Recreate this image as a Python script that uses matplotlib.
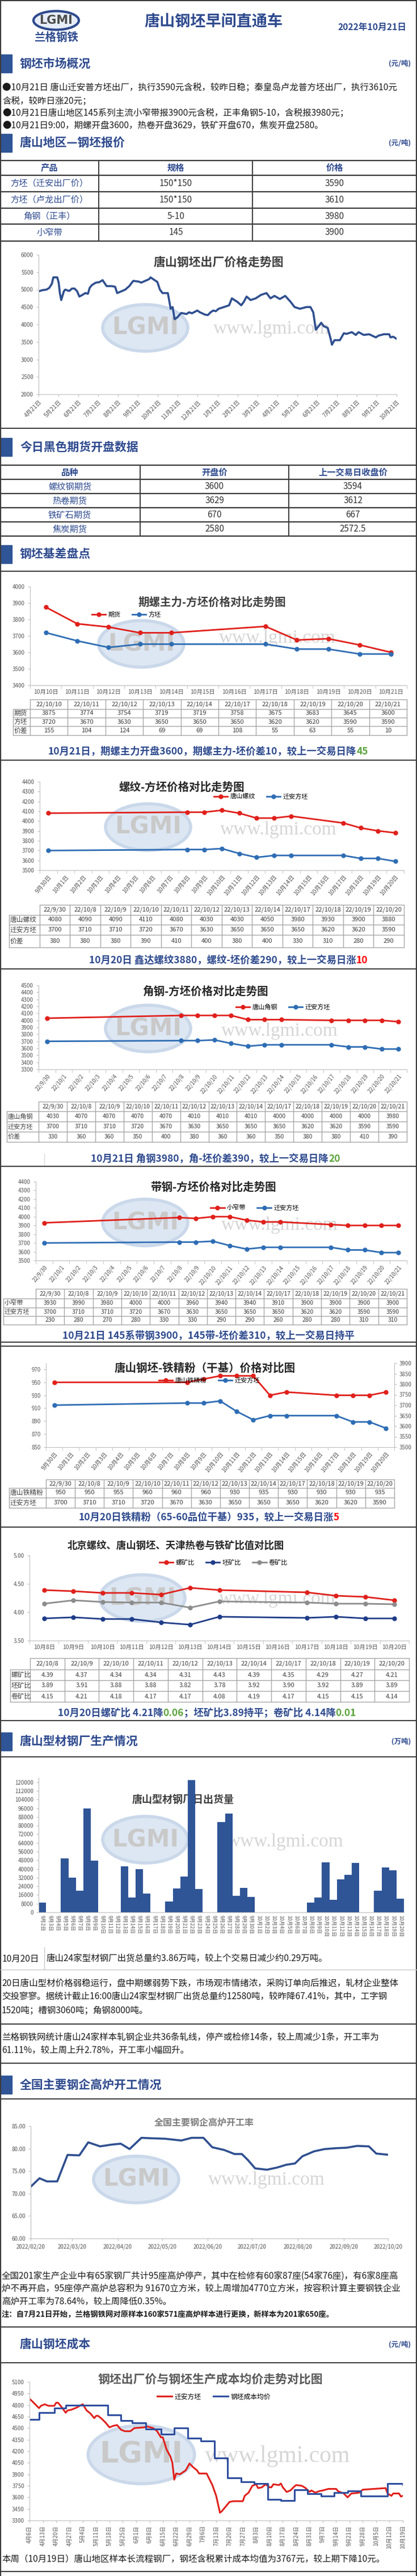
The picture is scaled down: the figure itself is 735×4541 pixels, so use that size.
import numpy as np
import matplotlib
matplotlib.use('Agg')
import matplotlib.pyplot as plt
from matplotlib.patches import Ellipse, Rectangle

plt.rcParams['font.family'] = ['Noto Sans CJK SC', 'DejaVu Sans']
plt.rcParams['axes.unicode_minus'] = False

# ---------------- data ----------------
report_date = '2022年10月21日'

market_lines = [
    '●10月21日 唐山迁安普方坯出厂，执行3590元含税，较昨日稳；秦皇岛卢龙普方坯出厂，执行3610元',
    '含税，较昨日涨20元；',
    '●10月21日唐山地区145系列主流小窄带报3900元含税，正丰角钢5-10，含税报3980元；',
    '●10月21日9:00，期螺开盘3600，热卷开盘3629，铁矿开盘670，焦炭开盘2580。',
]

quote_products = ['方坯（迁安出厂价）', '方坯（卢龙出厂价）', '角钢（正丰）', '小窄带']
quote_specs = ['150*150', '150*150', '5-10', '145']
quote_prices = [3590, 3610, 3980, 3900]

# billet ex-works price, x = months after 2021-04-21
trend_t = [0.00, 0.20, 0.40, 0.54, 0.67, 0.74, 0.94, 1.01, 1.07, 1.14, 1.27, 1.34, 1.54, 1.68,
           1.81, 1.94, 2.05, 2.21, 2.35, 2.48, 2.57, 2.68, 2.88, 3.04, 3.22, 3.42, 3.69, 3.85,
           3.95, 4.16, 4.36, 4.56, 4.76, 5.03, 5.16, 5.36, 5.56, 5.63, 5.76, 5.97, 6.10, 6.23,
           6.50, 6.64, 6.74, 6.84, 6.97, 7.17, 7.44, 7.57, 7.71, 7.98, 8.11, 8.38, 8.51, 8.65,
           8.78, 8.91, 9.05, 9.32, 9.58, 9.72, 9.85, 9.99, 10.19, 10.32, 10.46, 10.66, 10.92,
           11.19, 11.46, 11.66, 11.86, 12.13, 12.40, 12.67, 12.87, 13.14, 13.47, 13.67, 13.81,
           13.94, 14.08, 14.21, 14.34, 14.54, 14.68, 14.75, 14.88, 15.15, 15.35, 15.48, 15.75,
           15.95, 16.09, 16.35, 16.62, 16.96, 17.09, 17.36, 17.63, 17.69, 17.83, 18.00]
trend_v = [4950, 4985, 5000, 5050, 5170, 5350, 5350, 5200, 4900, 4700, 4950, 5000, 4960, 5030,
           5030, 4950, 4800, 4850, 4900, 4880, 5050, 5130, 5200, 5210, 5270, 5100, 5100, 5080,
           4900, 4950, 5000, 5100, 5250, 5230, 5200, 5250, 5300, 5350, 5300, 5220, 5000, 4900,
           4900, 4450, 4500, 4150, 4200, 4330, 4300, 4350, 4320, 4400, 4350, 4280, 4270, 4350,
           4400, 4380, 4450, 4500, 4550, 4750, 4700, 4650, 4550, 4650, 4800, 4700, 4750,
           4850, 4900, 4750, 4820, 4730, 4820, 4650, 4500, 4450, 4500, 4500, 4350,
           3850, 3950, 4050, 3950, 3900, 3600, 3420, 3550, 3550, 3750, 3730, 3780,
           3700, 3780, 3700, 3720, 3630, 3680, 3720, 3720, 3630, 3650, 3590]
trend_ticks = ['4月21日', '5月21日', '6月21日', '7月21日', '8月21日', '9月21日', '10月21日',
               '11月21日', '12月21日', '1月21日', '2月21日', '3月21日', '4月21日', '5月21日',
               '6月21日', '7月21日', '8月21日', '9月21日', '10月21日']

fut_names = ['螺纹钢期货', '热卷期货', '铁矿石期货', '焦炭期货']
fut_open = ['3600', '3629', '670', '2580']
fut_prev = ['3594', '3612', '667', '2572.5']

# 期螺主力-方坯
rb_cats = [f'10月{d}日' for d in range(10, 22)]
rb_dates = ['22/10/10', '22/10/11', '22/10/12', '22/10/13', '22/10/14', '22/10/17',
            '22/10/18', '22/10/19', '22/10/20', '22/10/21']
rb_fut = [3875, 3774, 3754, 3719, 3719, 3758, 3675, 3683, 3645, 3600]
rb_billet = [3720, 3670, 3630, 3650, 3650, 3650, 3620, 3620, 3590, 3590]
rb_spread = [155, 104, 124, 69, 69, 108, 55, 63, 55, 10]

# 螺纹-方坯
rebar_cats = ['9月30日'] + [f'10月{d}日' for d in range(1, 21)]
rebar_dates = ['22/9/30', '22/10/8', '22/10/9', '22/10/10', '22/10/11', '22/10/12',
               '22/10/13', '22/10/14', '22/10/17', '22/10/18', '22/10/19', '22/10/20']
rebar_price = [4080, 4090, 4090, 4110, 4080, 4030, 4030, 4050, 3980, 3930, 3900, 3880]
rebar_billet = [3700, 3710, 3710, 3720, 3670, 3630, 3650, 3650, 3650, 3620, 3620, 3590]
rebar_spread = [380, 380, 380, 390, 410, 400, 380, 400, 330, 310, 280, 290]

# 角钢-方坯 / 带钢-方坯
day_cats = ['22/9/30'] + [f'22/10/{d}' for d in range(1, 22)]
ang_dates = ['22/9/30', '22/10/8', '22/10/9', '22/10/10', '22/10/11', '22/10/12', '22/10/13',
             '22/10/14', '22/10/17', '22/10/18', '22/10/19', '22/10/20', '22/10/21']
ang_price = [4030, 4070, 4070, 4070, 4070, 4010, 4010, 4010, 4000, 4000, 4000, 4000, 3980]
ang_billet = [3700, 3710, 3710, 3720, 3670, 3630, 3650, 3650, 3650, 3620, 3620, 3590, 3590]
ang_spread = [330, 360, 360, 350, 400, 380, 360, 360, 350, 380, 380, 410, 390]
strip_price = [3930, 3990, 3980, 4000, 4000, 3960, 3940, 3940, 3910, 3900, 3900, 3900, 3900]
strip_spread = [230, 280, 270, 280, 330, 330, 290, 290, 260, 280, 280, 310, 310]

# 铁精粉
ore_dates = rebar_dates
ore_price = [950, 950, 955, 960, 960, 960, 930, 935, 930, 930, 930, 935]
ore_billet = rebar_billet

# 比值
ratio_cats = [f'10月{d}日' for d in range(8, 21)]
ratio_dates = ['22/10/8', '22/10/9', '22/10/10', '22/10/11', '22/10/12', '22/10/13',
               '22/10/14', '22/10/17', '22/10/18', '22/10/19', '22/10/20']
ratio_rebar = [4.39, 4.37, 4.34, 4.34, 4.31, 4.43, 4.39, 4.35, 4.29, 4.27, 4.21]
ratio_billet = [3.89, 3.91, 3.88, 3.88, 3.82, 3.78, 3.92, 3.90, 3.92, 3.89, 3.89]
ratio_coil = [4.15, 4.21, 4.18, 4.17, 4.17, 4.08, 4.19, 4.17, 4.15, 4.15, 4.14]

# 型材日出货量
ship_dates = [f'9月{d}日' for d in range(2, 31)] + [f'10月{d}日' for d in range(1, 21)]
ship_vals = [9000, 0, 0, 49800, 31800, 20100, 95900, 47500, 0, 0, 0, 42300, 13500, 40000,
             17300, 0, 0, 10000, 22200, 33200, 122000, 21300, 0, 0, 83300, 91200, 15200,
             22700, 14300, 0, 0, 0, 0, 0, 0, 0, 9100, 13500, 46100, 11700, 30400, 34400,
             45400, 0, 0, 20100, 41500, 38600, 12580]

# 高炉开工率, x = days after 2022-02-20
bf_day = [0, 6, 11, 18, 25, 33, 39, 47, 55, 61, 67, 75, 82, 91, 102, 109, 117, 123, 131, 138,
          143, 147, 152, 160, 167, 173, 179, 184, 192, 199, 207, 214, 221, 229, 234, 242]
bf_rate = [71.5, 73.4, 72.7, 72.7, 78.6, 78.5, 81.4, 80.5, 80.9, 81.1, 79.9, 82.4, 82.3, 82.2,
           81.8, 82.4, 82.4, 80.3, 79.7, 78.8, 78.8, 77.5, 75.6, 75.3, 75.8, 76.4, 76.7, 78.3,
           79.4, 79.9, 80.1, 80.2, 80.6, 80.5, 78.9, 78.64]
bf_tick_day = [0, 28, 59, 89, 120, 150, 181, 212, 242]
bf_tick_lab = ['2022/02/20', '2022/03/20', '2022/04/20', '2022/05/20', '2022/06/20',
               '2022/07/20', '2022/08/20', '2022/09/20', '2022/10/20']

# 成本对比, x = days after 4月6日
qa_day = [0, 1, 5, 6, 8, 10, 13, 14, 15, 17, 19, 20, 22, 25, 27, 28, 30, 32, 34, 35, 36, 38,
          40, 42, 44, 46, 48, 50, 53, 55, 60, 62, 65, 67, 69, 70, 72, 74, 75, 76, 77, 79, 82,
          84, 86, 88, 89, 93, 96, 98, 100, 101, 105, 107, 112, 113, 115, 117, 119, 120, 122,
          124, 126, 127, 128, 131, 132, 133, 135, 137, 139, 140, 143, 145, 147, 148, 150, 152,
          154, 157, 161, 162, 165, 167, 169, 173, 175, 187, 188, 190, 191, 194, 195, 196]
qa_price = [4880, 4860, 4760, 4790, 4810, 4790, 4790, 4830, 4830, 4770, 4700, 4730, 4740, 4770,
            4800, 4810, 4730, 4690, 4630, 4660, 4660, 4620, 4570, 4510, 4530, 4540, 4480, 4460,
            4460, 4500, 4510, 4520, 4500, 4460, 4380, 4380, 4220, 4130, 4050, 3830, 3910, 3900,
            3950, 4040, 3990, 3950, 3910, 3910, 3760, 3620, 3400, 3420, 3540, 3550, 3550, 3620,
            3660, 3750, 3770, 3720, 3730, 3770, 3730, 3730, 3770, 3760, 3780, 3730, 3670, 3690,
            3740, 3760, 3750, 3720, 3670, 3690, 3660, 3680, 3690, 3710, 3710, 3680, 3650, 3600,
            3650, 3660, 3700, 3720, 3650, 3620, 3650, 3650, 3610, 3620]
cost_day = [0, 5, 13, 19, 41, 48, 54, 61, 69, 76, 83, 90, 97, 104, 111, 118, 125, 132, 139,
            146, 153, 160, 167, 174, 188, 196]
cost_val = [4610, 4700, 4760, 4800, 4670, 4600, 4570, 4490, 4420, 4500, 4370, 4330, 4110, 3850,
            3800, 3780, 3570, 3560, 3700, 3650, 3620, 3660, 3680, 3620, 3780, 3767]
cost_ticks = ['4月6日', '4月13日', '4月20日', '4月27日', '5月4日', '5月11日', '5月18日', '5月25日',
              '6月1日', '6月8日', '6月15日', '6月22日', '6月29日', '7月6日', '7月13日', '7月20日',
              '7月27日', '8月3日', '8月10日', '8月17日', '8月24日', '8月31日', '9月7日', '9月14日',
              '9月21日', '9月28日', '10月5日', '10月12日', '10月19日']

# ---------------- drawing ----------------
W, H = 735, 4541
NAVY = '#2E4A8E'
BAR = '#2F5597'
RED = '#E0201B'
BLUE = '#2E6DB4'
GREEN = '#5BA33B'
GREY = '#595959'
LINE = '#3A3A3A'

fig = plt.figure(figsize=(W / 100, H / 100), dpi=100)
fig.patch.set_facecolor('white')
bg = fig.add_axes([0, 0, 1, 1])
bg.set_xlim(0, W)
bg.set_ylim(H, 0)
bg.axis('off')
renderer = fig.canvas.get_renderer()


def hline(y, x0=0, x1=W, color=LINE, lw=1.4):
    bg.plot([x0, x1], [y, y], color=color, lw=lw, solid_capstyle='butt')


def vline(x, y0, y1, color=LINE, lw=1.4):
    bg.plot([x, x], [y0, y1], color=color, lw=lw, solid_capstyle='butt')


def section(yc, title, unit=None, bar=True):
    if bar:
        bg.add_patch(Rectangle((0, yc - 16), 21, 32, color=BAR))
    bg.text(35, yc, title, fontsize=15, fontweight='bold', color=NAVY, va='center')
    if unit:
        bg.text(724, yc, unit, fontsize=9, fontweight='bold', color=NAVY, ha='right', va='center')


def rich(xc, y, parts, size=12.5):
    objs = []
    x = 0
    for s, col in parts:
        t = bg.text(x, y, s, fontsize=size, fontweight='bold', color=col, va='center', ha='left')
        w = t.get_window_extent(renderer=renderer).width
        objs.append((t, w))
        x += w
    start = xc - x / 2
    for t, w in objs:
        t.set_x(start)
        start += w


def watermark(cx, cy, tx, ty, s=1.0):
    bg.add_patch(Ellipse((cx, cy), 150 * s, 82 * s, facecolor='#DDE7F3', edgecolor='#CAD8EA',
                         lw=4, zorder=0))
    bg.text(cx, cy, 'LGMI', fontsize=30 * s, color='#C9C9C9', ha='center', va='center',
            fontweight='bold', family=['DejaVu Sans'], zorder=0.5)
    bg.text(tx, ty, 'www.lgmi.com', fontsize=24 * s, color='#D6D6D6', ha='center', va='center',
            family=['Liberation Serif'], zorder=0.5)


def add_ax(x0, y0, x1, y1):
    ax = fig.add_axes([x0 / W, 1 - y1 / H, (x1 - x0) / W, (y1 - y0) / H])
    ax.set_facecolor('none')
    for s in ['top', 'right']:
        ax.spines[s].set_visible(False)
    ax.spines['left'].set_color('#BFBFBF')
    ax.spines['bottom'].set_color('#BFBFBF')
    ax.tick_params(colors=GREY, labelsize=7, length=3, color='#BFBFBF')
    return ax


def cat_axis(ax, cats, rot=0, size=7.5):
    n = len(cats)
    ax.set_xlim(-0.5, n - 0.5)
    ax.set_xticks(range(n))
    if rot:
        ax.set_xticklabels(cats, rotation=rot, ha='right', rotation_mode='anchor', fontsize=size)
    else:
        ax.set_xticklabels(cats, fontsize=size)
    ax.tick_params(axis='x', which='major', length=0, pad=5)
    ax.set_xticks(np.arange(-0.5, n), minor=True)
    ax.tick_params(axis='x', which='minor', length=4, color='#BFBFBF')


def chart_table(x0, xl, x1, ys, headers, rows, size=8):
    c = '#A6A6A6'
    xs = np.linspace(xl, x1, len(headers) + 1)
    bg.plot([xl, x1], [ys[0], ys[0]], color=c, lw=1)
    for y in ys[1:]:
        bg.plot([x0, x1], [y, y], color=c, lw=1)
    vline(x0, ys[1], ys[-1], color=c, lw=1)
    for x in xs:
        vline(x, ys[0], ys[-1], color=c, lw=1)
    for i, h in enumerate(headers):
        bg.text((xs[i] + xs[i + 1]) / 2, (ys[0] + ys[1]) / 2, h, ha='center', va='center',
                fontsize=size, color='#404040')
    for r, (lab, vals) in enumerate(rows):
        yc = (ys[r + 1] + ys[r + 2]) / 2
        bg.text(x0 + 2, yc, lab, ha='left', va='center', fontsize=size + 0.5, color='#404040')
        for i, v in enumerate(vals):
            bg.text((xs[i] + xs[i + 1]) / 2, yc, str(v), ha='center', va='center',
                    fontsize=size, color='#404040')


def legend(ax, handles, labels, cx, cy, ncol=2, size=8):
    ax.legend(handles, labels, loc='center', bbox_to_anchor=(cx / W, 1 - cy / H),
              bbox_transform=fig.transFigure, ncol=ncol, frameon=False, fontsize=size,
              handlelength=2.2, columnspacing=1.8, handletextpad=0.4)


def to_cn(d):
    _, m, dd = d.split('/')
    return f'{m}月{dd}日'


# frame
vline(1, 0, H, lw=1.5)
vline(734, 0, H, lw=1.5)
hline(1, lw=1.5)

# ---- header ----
bg.add_patch(Ellipse((99, 36), 80, 33, facecolor='#E6EDF8', edgecolor=NAVY, lw=3))
bg.text(99, 36, 'LGMI', fontsize=15, fontweight='bold', color='#4D4D4D', ha='center',
        va='center', family=['DejaVu Sans'])
bg.text(99, 66, '兰格钢铁', fontsize=14, fontweight='bold', color=NAVY, ha='center', va='center')
bg.text(376, 38, '唐山钢坯早间直通车', fontsize=19.5, fontweight='bold', color=NAVY,
        ha='center', va='center')
bg.text(717, 48, report_date, fontsize=11.3, fontweight='bold', color=NAVY, ha='right',
        va='center')

# ---- 钢坯市场概况 ----
section(112, '钢坯市场概况', '(元/吨)')
for y, s in zip([155, 178, 200, 222], market_lines):
    bg.text(4, y, s, fontsize=11.2, color='#1A1A1A', va='center')

# ---- 钢坯报价 ----
section(252, '唐山地区—钢坯报价', '(元/吨)')
q_rows = [283, 309, 338, 367, 395, 425]
for y in q_rows:
    hline(y, lw=1.6)
vline(174, q_rows[0], q_rows[-1])
vline(445, q_rows[0], q_rows[-1])
for x, h in zip([87, 310, 590], ['产品', '规格', '价格']):
    bg.text(x, (q_rows[0] + q_rows[1]) / 2, h, fontsize=11, fontweight='bold', color=NAVY,
            ha='center', va='center')
for i in range(len(quote_products)):
    yc = (q_rows[i + 1] + q_rows[i + 2]) / 2
    bg.text(87, yc, quote_products[i], fontsize=11, color=NAVY, ha='center', va='center')
    bg.text(310, yc, quote_specs[i], fontsize=11, color='#333333', ha='center', va='center')
    bg.text(590, yc, str(quote_prices[i]), fontsize=11, color='#333333', ha='center', va='center')

# chart 1
watermark(256, 578, 479, 580)
ax = add_ax(68, 449, 699, 695)
ax.plot(trend_t, trend_v, color='#2F4F8F', lw=2.6)
ax.set_ylim(2000, 6000)
ax.set_yticks(range(2000, 6001, 500))
ax.set_xlim(0, 18)
ax.set_xticks(range(len(trend_ticks)))
ax.set_xticklabels(trend_ticks, rotation=45, ha='right', rotation_mode='anchor', fontsize=7.5)
bg.text(385, 463, '唐山钢坯出厂价格走势图', fontsize=15, fontweight='bold', color='#404040',
        ha='center', va='center')
hline(755)

# ---- 期货 ----
section(788, '今日黑色期货开盘数据')
f_rows = [820, 845, 870, 895, 920, 945]
for y in f_rows:
    hline(y, lw=1.6)
vline(247, f_rows[0], f_rows[-1])
vline(509, f_rows[0], f_rows[-1])
for x, h in zip([123, 378, 622], ['品种', '开盘价', '上一交易日收盘价']):
    bg.text(x, (f_rows[0] + f_rows[1]) / 2, h, fontsize=11, fontweight='bold', color=NAVY,
            ha='center', va='center')
for i in range(len(fut_names)):
    yc = (f_rows[i + 1] + f_rows[i + 2]) / 2
    bg.text(123, yc, fut_names[i], fontsize=11, color=NAVY, ha='center', va='center')
    bg.text(378, yc, fut_open[i], fontsize=11, color='#333333', ha='center', va='center')
    bg.text(622, yc, fut_prev[i], fontsize=11, color='#333333', ha='center', va='center')

# ---- 基差 ----
section(977, '钢坯基差盘点')
hline(1007)

# chart 2
watermark(249, 1135, 489, 1125)
ax = add_ax(53, 1034, 717, 1208)
xi = [rb_cats.index(to_cn(d)) for d in rb_dates]
h1, = ax.plot(xi, rb_fut, color=RED, lw=2, marker='o', ms=5)
h2, = ax.plot(xi, rb_billet, color=BLUE, lw=2, marker='o', ms=5)
ax.set_ylim(3400, 4000)
ax.set_yticks(range(3400, 4001, 100))
cat_axis(ax, rb_cats)
bg.text(374, 1062, '期螺主力-方坯价格对比走势图', fontsize=14, fontweight='bold', color='#404040',
        ha='center', va='center')
legend(ax, [h1, h2], ['期货', '方坯'], 223, 1083)
chart_table(23, 53, 717, [1233, 1250, 1265, 1280, 1296], rb_dates,
            [('期货', rb_fut), ('方坯', rb_billet), ('价差', rb_spread)])
rich(367, 1325, [('10月21日，期螺主力开盘3600，期螺主力-坯价差10，较上一交易日降', NAVY),
                 ('45', GREEN)])
hline(1340)

# chart 3
watermark(261, 1458, 491, 1463)
ax = add_ax(70, 1378, 712, 1534)
xi = [rebar_cats.index(to_cn(d)) for d in rebar_dates]
h1, = ax.plot(xi, rebar_price, color=RED, lw=2, marker='o', ms=5)
h2, = ax.plot(xi, rebar_billet, color=BLUE, lw=2, marker='o', ms=5)
ax.set_ylim(3500, 4400)
ax.set_yticks(range(3500, 4401, 100))
cat_axis(ax, rebar_cats, rot=50)
bg.text(320, 1388, '螺纹-方坯价格对比走势图', fontsize=14, fontweight='bold', color='#262626',
        ha='center', va='center')
legend(ax, [h1, h2], ['唐山螺纹', '迁安方坯'], 460, 1404)
chart_table(16, 70, 712, [1595, 1613, 1630, 1648, 1670], rebar_dates,
            [('唐山螺纹', rebar_price), ('迁安方坯', rebar_billet), ('价差', rebar_spread)])
rich(403, 1693, [('10月20日 鑫达螺纹3880，螺纹-坯价差290，较上一交易日涨', NAVY), ('10', '#FF0000')])
hline(1708)

# chart 4
watermark(261, 1813, 493, 1818)
ax = add_ax(68, 1737, 717, 1885)
xi = [day_cats.index(d) for d in ang_dates]
h1, = ax.plot(xi, ang_price, color=RED, lw=2, marker='o', ms=5)
h2, = ax.plot(xi, ang_billet, color=BLUE, lw=2, marker='o', ms=5)
ax.set_ylim(3300, 4500)
ax.set_yticks(range(3300, 4501, 100))
cat_axis(ax, day_cats, rot=50, size=7)
bg.text(362, 1748, '角钢-方坯价格对比走势图', fontsize=14, fontweight='bold', color='#262626',
        ha='center', va='center')
legend(ax, [h1, h2], ['唐山角钢', '迁安方坯'], 499, 1775)
chart_table(12, 68, 717, [1942, 1959, 1977, 1995, 2013], ang_dates,
            [('唐山角钢', ang_price), ('迁安方坯', ang_billet), ('价差', ang_spread)], size=7.5)
vline(78, 2033, 2056, color='#D9D9D9', lw=1)
vline(247, 2033, 2056, color='#D9D9D9', lw=1)
rich(380, 2043, [('10月21日 角钢3980，角-坯价差390，较上一交易日降', NAVY), ('20', GREEN)])
hline(2056)

# chart 5
watermark(256, 2155, 493, 2160)
ax = add_ax(63, 2083, 717, 2222)
xi = [day_cats.index(d) for d in ang_dates]
h1, = ax.plot(xi, strip_price, color=RED, lw=2, marker='o', ms=5)
h2, = ax.plot(xi, ang_billet, color=BLUE, lw=2, marker='o', ms=5)
ax.set_ylim(3500, 4400)
ax.set_yticks(range(3500, 4401, 100))
cat_axis(ax, day_cats, rot=50, size=7)
bg.text(376, 2093, '带钢-方坯价格对比走势图', fontsize=14, fontweight='bold', color='#262626',
        ha='center', va='center')
legend(ax, [h1, h2], ['小窄带', '迁安方坯'], 449, 2129)
chart_table(6, 63, 717, [2272, 2289, 2305, 2320, 2335], ang_dates,
            [('小窄带', strip_price), ('迁安方坯', ang_billet), ('', strip_spread)], size=7.5)
rich(367, 2355, [('10月21日 145系带钢3900，145带-坯价差310，较上一交易日持平', NAVY)])
hline(2366)
hline(2373)

# chart 6
ax = add_ax(81, 2403, 695, 2551)
xi = [rebar_cats.index(to_cn(d)) for d in ore_dates]
h1, = ax.plot(xi, ore_price, color=RED, lw=2, marker='o', ms=5)
ax.set_ylim(850, 979.6)
ax.set_yticks(range(850, 971, 20))
cat_axis(ax, rebar_cats, rot=50)
ax2 = ax.twinx()
ax2.set_facecolor('none')
h2, = ax2.plot(xi, ore_billet, color=BLUE, lw=2, marker='o', ms=5)
ax2.set_ylim(3500, 3900)
ax2.set_yticks(range(3500, 3901, 50))
for s in ['top', 'left']:
    ax2.spines[s].set_visible(False)
ax2.spines['right'].set_color('#BFBFBF')
ax2.spines['bottom'].set_visible(False)
ax2.tick_params(colors=GREY, labelsize=7, length=3, color='#BFBFBF')
bg.text(361, 2412, '唐山钢坯-铁精粉（干基）价格对比图', fontsize=14, fontweight='bold',
        color='#262626', ha='center', va='center')
legend(ax2, [h1, h2], ['唐山铁精粉', '迁安方坯'], 369, 2433)
chart_table(16, 81, 695, [2608, 2623, 2640, 2658], ore_dates,
            [('唐山铁精粉', ore_price), ('迁安方坯', ore_billet)])
rich(368, 2675, [('10月20日铁精粉（65-60品位干基）935，较上一交易日涨', NAVY), ('5', '#FF0000')])
hline(2692)

# chart 7
watermark(251, 2817, 489, 2819)
ax = add_ax(52, 2742, 721, 2892)
xi = [ratio_cats.index(to_cn(d)) for d in ratio_dates]
h1, = ax.plot(xi, ratio_rebar, color=RED, lw=2, marker='o', ms=5)
h2, = ax.plot(xi, ratio_billet, color='#1F3C88', lw=2, marker='o', ms=5)
h3, = ax.plot(xi, ratio_coil, color='#8C8C8C', lw=2, marker='o', ms=5)
ax.set_ylim(3.5, 5.0)
ax.set_yticks([3.5, 4.0, 4.5, 5.0])
ax.set_yticklabels(['3.50', '4.00', '4.50', '5.00'])
cat_axis(ax, ratio_cats)
bg.text(310, 2725, '北京螺纹、唐山钢坯、天津热卷与铁矿比值对比图', fontsize=12.5, fontweight='bold',
        color='#262626', ha='center', va='center')
legend(ax, [h1, h2, h3], ['螺矿比', '坯矿比', '卷矿比'], 394, 2754, ncol=3)
chart_table(18, 53, 721, [2923, 2943, 2962, 2981, 3000], ratio_dates,
            [('螺矿比', [f'{v:.2f}' for v in ratio_rebar]),
             ('坯矿比', [f'{v:.2f}' for v in ratio_billet]),
             ('卷矿比', [f'{v:.2f}' for v in ratio_coil])])
rich(365, 3020, [('10月20日螺矿比 4.21降', NAVY), ('0.06', GREEN),
                 ('；坯矿比3.89持平；卷矿比 4.14降', NAVY), ('0.01', GREEN)])
hline(3033)

# ---- 型材 ----
section(3070, '唐山型材钢厂生产情况', '(万吨)')
hline(3097)
watermark(256, 3243, 503, 3247)
ax = add_ax(68, 3134, 712, 3371)
ax.bar(range(len(ship_vals)), ship_vals, width=1.0, color=BAR)
ax.set_ylim(0, 124000)
ax.set_yticks(range(0, 120001, 8000))
ax.set_xlim(-0.5, len(ship_vals) - 0.5)
ax.set_xticks(range(len(ship_dates)))
ax.set_xticklabels(ship_dates, rotation=-90, fontsize=6.5, va='top', ha='center')
ax.tick_params(axis='x', length=0)
bg.text(323, 3173, '唐山型材钢厂日出货量', fontsize=13, fontweight='bold', color='#404040',
        ha='center', va='center')
bg.text(4, 3453, '10月20日', fontsize=11.2, color='#1A1A1A', va='center')
vline(78, 3432, 3472, color='#C8C8C8', lw=1)
bg.text(82, 3453, '唐山24家型材钢厂出货总量约3.86万吨，较上个交易日减少约0.29万吨。', fontsize=11.2,
        color='#1A1A1A', va='center')
hline(3472, color='#C8C8C8', lw=1)
para1 = ['20日唐山型材价格弱稳运行，盘中期螺弱势下跌，市场观市情绪浓，采购订单向后推迟，轧材企业整体',
         '交投寥寥。据统计截止16:00唐山24家型材钢厂出货总量约12580吨，较昨降67.41%，其中，工字钢',
         '1520吨；槽钢3060吨；角钢8000吨。']
for y, s in zip([3497, 3520, 3544], para1):
    bg.text(3, y, s, fontsize=11.2, color='#1A1A1A', va='center')
hline(3568)
para2 = ['兰格钢铁网统计唐山24家样本轧钢企业共36条轧线，停产或检修14条，较上周减少1条，开工率为',
         '61.11%，较上周上升2.78%，开工率小幅回升。']
for y, s in zip([3592, 3614], para2):
    bg.text(3, y, s, fontsize=11.2, color='#1A1A1A', va='center')
hline(3637)

# ---- 高炉 ----
section(3675, '全国主要钢企高炉开工情况')
hline(3700)
watermark(240, 3842, 470, 3843)
ax = add_ax(54, 3748, 684, 3946)
ax.plot(bf_day, bf_rate, color='#2F4F8F', lw=2.6)
ax.set_ylim(60, 85)
ax.set_yticks(range(60, 86, 5))
ax.set_yticklabels([f'{v:.2f}' for v in range(60, 86, 5)])
ax.set_xlim(0, 242)
ax.set_xticks(bf_tick_day)
ax.set_xticklabels(bf_tick_lab, fontsize=7)
bg.text(360, 3741, '全国主要钢企高炉开工率', fontsize=11.5, fontweight='bold', color='#7F7F7F',
        ha='center', va='center')
para3 = ['全国201家生产企业中有65家钢厂共计95座高炉停产，其中在检修有60家87座(54家76座)，有6家8座高',
         '炉不再开启，95座停产高炉总容积为 91670立方米，较上周增加4770立方米，按容积计算主要钢铁企业',
         '高炉开工率为78.64%，较上周降低0.35%。']
for y, s in zip([4012, 4035, 4058], para3):
    bg.text(3, y, s, fontsize=11.2, color='#1A1A1A', va='center')
bg.text(3, 4080, '注：自7月21日开始，兰格钢铁网对原样本160家571座高炉样本进行更换，新样本为201家650座。',
        fontsize=9.6, fontweight='bold', color='#1A1A1A', va='center')
hline(4102)

# ---- 成本 ----
section(4133, '唐山钢坯成本', '(元/吨)', bar=False)
hline(4165)
watermark(249, 4327, 489, 4330, s=1.25)
ax = add_ax(52, 4199, 710, 4443)
h1, = ax.plot(qa_day, qa_price, color=RED, lw=2.2)
h2, = ax.step(cost_day, cost_val, where='post', color='#2F4F9F', lw=2.2)
ax.set_ylim(3300, 5100)
ax.set_yticks(range(3300, 5101, 150))
ax.set_xlim(0, 196)
ax.set_xticks(range(0, 197, 7))
ax.set_xticklabels(cost_ticks, rotation=90, fontsize=7, va='top', ha='center')
bg.text(371, 4195, '钢坯出厂价与钢坯生产成本均价走势对比图', fontsize=15, fontweight='bold',
        color='#595959', ha='center', va='center')
legend(ax, [h1, h2], ['迁安方坯', '钢坯成本均价'], 377, 4225, size=8.5)
bg.text(3, 4512, '本周（10月19日）唐山地区样本长流程钢厂，钢坯含税累计成本均值为3767元，较上期下降10元。',
        fontsize=11.2, color='#1A1A1A', va='center')
hline(4533)

fig.savefig('out.png', dpi=100, facecolor='white')
